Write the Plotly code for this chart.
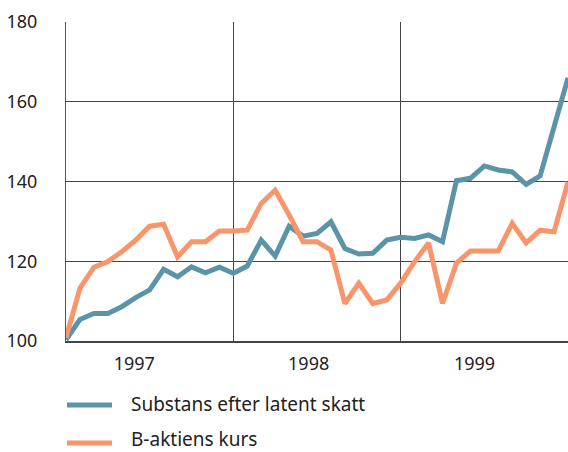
import plotly.graph_objects as go

months = list(range(37))
substans = [100.3, 105.4, 106.9, 106.9, 108.6, 110.9, 112.8, 118.0, 116.1, 118.6, 117.1, 118.5, 117.0,
            118.8, 125.3, 121.3, 128.8, 126.3, 127.0, 129.9, 123.2, 121.8, 122.0, 125.3, 126.0,
            125.7, 126.6, 124.9, 140.2, 140.8, 143.9, 142.9, 142.4, 139.3, 141.4, 153.7, 166.0]
bkurs = [100.8, 113.2, 118.5, 119.9, 122.4, 125.3, 128.8, 129.3, 121.1, 124.9, 124.9, 127.6, 127.6,
         127.8, 134.5, 137.8, 131.6, 124.9, 124.9, 122.8, 109.4, 114.5, 109.4, 110.3, 114.5,
         119.9, 124.6, 109.4, 119.5, 122.6, 122.6, 122.6, 129.5, 124.6, 127.8, 127.4, 139.9]
year_pos = [4.9, 17.4, 29.3]
year_labels = ["1997", "1998", "1999"]
y_ticks = [100, 120, 140, 160, 180]
series_names = ["Substans efter latent skatt", "B-aktiens kurs"]
colors = ["#5b93a8", "#f8956a"]

FONT = "Noto Sans"
fig = go.Figure()
for name, vals, col in zip(series_names, [substans, bkurs], colors):
    fig.add_trace(go.Scatter(x=months, y=vals, mode="lines", name=name,
                             line=dict(color=col, width=5), showlegend=False))

fig.update_layout(
    width=568, height=452,
    margin=dict(l=66, r=0, t=22, b=111),
    paper_bgcolor="white", plot_bgcolor="white",
    font=dict(family=FONT, size=18, color="#222"),
)
fig.update_xaxes(range=[0, 36], tickvals=year_pos, ticktext=year_labels,
                 showgrid=False, zeroline=False, ticks="", ticklabelstandoff=6,
                 showline=True, linecolor="#444", linewidth=1.5,
                 minor=dict(tick0=0, dtick=12, showgrid=True, gridcolor="#444", gridwidth=1.3, ticks=""))
fig.update_yaxes(range=[100, 180], tickvals=y_ticks, showgrid=True, gridcolor="#444", gridwidth=1.3,
                 zeroline=False, ticks="", ticklabelstandoff=24,
                 showline=True, linecolor="#555", linewidth=1.2, mirror=False)

# manual legend below plot
legend_line_y = [405, 443]
legend_text_y = [404, 439]
for name, col, ly, ty in zip(series_names, colors, legend_line_y, legend_text_y):
    yp = 1 - (ly - 22) / (341 - 22)
    yt = 1 - (ty - 22) / (341 - 22)
    fig.add_shape(type="line", xref="paper", yref="paper",
                  x0=(67 - 66) / 502, x1=(112 - 66) / 502, y0=yp, y1=yp,
                  line=dict(color=col, width=5))
    fig.add_annotation(xref="paper", yref="paper", x=(130 - 66) / 502, y=yt,
                       text=name, showarrow=False, xanchor="left", yanchor="middle",
                       borderpad=0, font=dict(family=FONT, size=19, color="#222"))

fig.write_html("out.html", config={"displayModeBar": False},
               post_script="document.body.style.margin='0';document.body.style.overflow='hidden';")
